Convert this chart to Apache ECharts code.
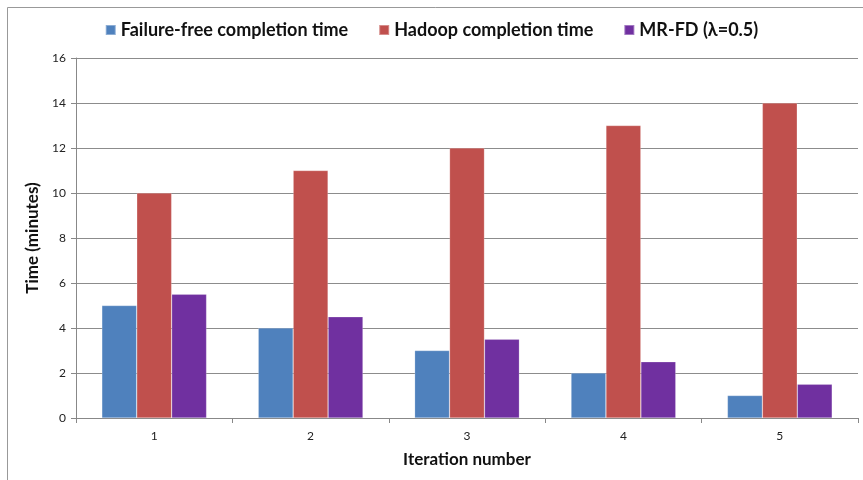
<!DOCTYPE html>
<html><head><meta charset="utf-8">
<script src="https://cdn.jsdelivr.net/npm/echarts@6/dist/echarts.min.js"></script>
<style>html,body{margin:0;padding:0;background:#fff}#c{width:863px;height:480px}</style>
</head><body><div id="c"></div>
<script>
const categories = ['1','2','3','4','5'];
const failureFree = [5,4,3,2,1];
const hadoop = [10,11,12,13,14];
const mrfd = [5.5,4.5,3.5,2.5,1.5];
const seriesNames = ['Failure-free completion time','Hadoop completion time','MR-FD (λ=0.5)'];
const colors = ['#4F81BD','#C0504D','#7030A0'];
const FONT = 'Lato, "Open Sans", sans-serif';
const chart = echarts.init(document.getElementById('c'));
const mk = (name, data, color) => ({
  name, type:'bar', data, barGap:'0%', barCategoryGap:'33%',
  itemStyle:{color, borderColor:'rgba(255,255,255,0.35)', borderWidth:0.6}
});
chart.setOption({
  animation:false,
  textStyle:{fontFamily:FONT},
  graphic:[{type:'rect', shape:{x:7.5,y:7.5,width:870,height:490}, style:{fill:'none',stroke:'#999',lineWidth:1}, silent:true}],
  legend:{top:16, left:'center', itemWidth:10, itemHeight:10, itemGap:30, icon:'rect',
    textStyle:{fontFamily:FONT, fontWeight:'bold', fontSize:18, color:'#111'}, data:seriesNames},
  grid:{left:76, right:5, top:58, bottom:62},
  xAxis:{type:'category', data:categories, name:'Iteration number', nameLocation:'middle', nameGap:33,
    nameTextStyle:{fontFamily:FONT, fontWeight:'bold', fontSize:17, color:'#111'},
    axisLine:{lineStyle:{color:'#888'}}, axisTick:{show:true, alignWithLabel:false, length:5, lineStyle:{color:'#888'}},
    axisLabel:{fontSize:12, color:'#222', margin:12}},
  yAxis:{type:'value', min:0, max:16, interval:2, name:'Time (minutes)', nameLocation:'middle', nameGap:27,
    nameTextStyle:{fontFamily:FONT, fontWeight:'bold', fontSize:17, color:'#111'},
    axisLine:{show:true, lineStyle:{color:'#888'}}, axisTick:{show:true, inside:false, length:5, lineStyle:{color:'#888'}},
    axisLabel:{fontSize:12, color:'#222', margin:10},
    splitLine:{lineStyle:{color:'#8c8c8c', width:1}}},
  series:[mk(seriesNames[0], failureFree, colors[0]), mk(seriesNames[1], hadoop, colors[1]), mk(seriesNames[2], mrfd, colors[2])]
});
</script></body></html>
